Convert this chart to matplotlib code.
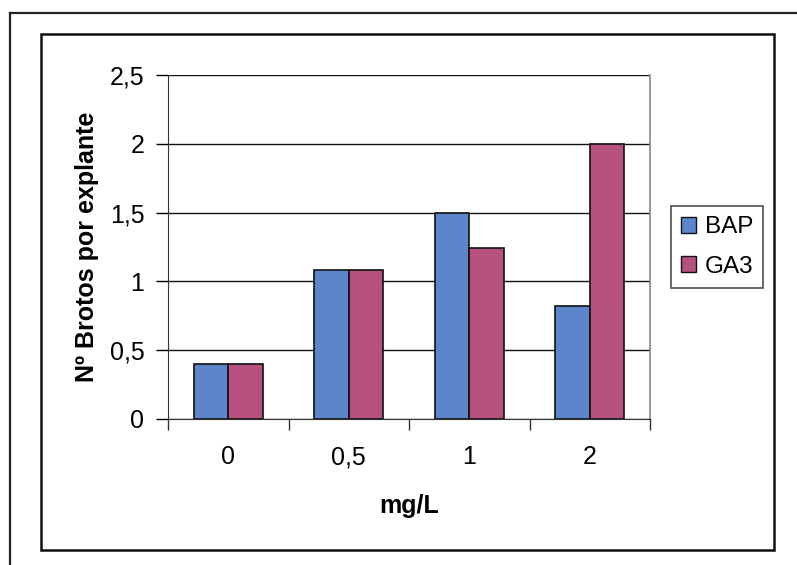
import matplotlib
matplotlib.use("Agg")
import matplotlib.pyplot as plt
from matplotlib.patches import Rectangle, Patch
from matplotlib.lines import Line2D
import numpy as np

categories = ["0", "0,5", "1", "2"]
bap = [0.40, 1.08, 1.50, 0.82]
ga3 = [0.40, 1.08, 1.24, 2.00]
yticks = [0, 0.5, 1, 1.5, 2, 2.5]
ytick_labels = ["0", "0,5", "1", "1,5", "2", "2,5"]
series_names = ["BAP", "GA3"]

BLUE = "#5b86cc"
PINK = "#b5507f"

plt.rcParams['font.family'] = ['Liberation Sans', 'DejaVu Sans']

W, H = 797, 565
fig = plt.figure(figsize=(W / 100, H / 100), dpi=100)
fig.patch.set_facecolor("white")

def fx(px):
    return px / W

def fy(py):
    return 1 - py / H

# outer scan frame lines
fig.add_artist(Line2D([fx(10), fx(797)], [fy(12.5), fy(12.5)], color="#222222", lw=1.6))
fig.add_artist(Line2D([fx(10), fx(10)], [fy(12.5), fy(565)], color="#222222", lw=1.6))
# chart area frame
fig.add_artist(Rectangle((fx(41), fy(550)), fx(774) - fx(41), fy(34) - fy(550),
                         fill=False, edgecolor="#111111", lw=1.8))

ax = fig.add_axes([fx(168), fy(419), fx(650) - fx(168), fy(75) - fy(419)])
x = np.arange(len(categories))
bw = 1 / 3.5
ax.bar(x - bw / 2, bap, width=bw, color=BLUE, edgecolor="#111111", lw=1.2, zorder=3, label=series_names[0])
ax.bar(x + bw / 2, ga3, width=bw, color=PINK, edgecolor="#111111", lw=1.2, zorder=3, label=series_names[1])

ax.set_xlim(-0.5, len(categories) - 0.5)
ax.set_ylim(0, 2.5)
ax.set_yticks(yticks)
ax.set_yticklabels(ytick_labels)
ax.yaxis.grid(True, color="#111111", lw=1.0, zorder=0)
ax.set_axisbelow(True)

ax.set_xticks(x)
ax.set_xticklabels(categories)
ax.set_xticks(np.arange(-0.5, len(categories), 1), minor=True)
ax.tick_params(axis="x", which="major", length=0, pad=19, labelsize=18)
ax.tick_params(axis="x", which="minor", length=8, width=1.0, color="#333333")
ax.tick_params(axis="y", length=9, width=1.0, pad=8, labelsize=18)

ax.spines["top"].set_visible(False)
ax.spines["right"].set_color("#888888")
ax.spines["right"].set_linewidth(1.2)
ax.spines["left"].set_color("#333333")
ax.spines["bottom"].set_color("#333333")

ax.set_xlabel("mg/L", fontsize=18, fontweight="bold", labelpad=18)
ax.set_ylabel("Nº Brotos por explante", fontsize=18, fontweight="bold", labelpad=8)

handles = [Patch(facecolor=BLUE, edgecolor="#111111"), Patch(facecolor=PINK, edgecolor="#111111")]
leg = fig.legend(handles, series_names, loc="upper left",
                 bbox_to_anchor=(fx(671), fy(206)), fontsize=17.5, frameon=True,
                 fancybox=False, edgecolor="#222222", handlelength=0.62, handleheight=0.62,
                 handletextpad=0.34, labelspacing=0.72, borderpad=0.42, borderaxespad=0)
leg.get_frame().set_linewidth(1.2)

fig.savefig("out.png", dpi=100)
